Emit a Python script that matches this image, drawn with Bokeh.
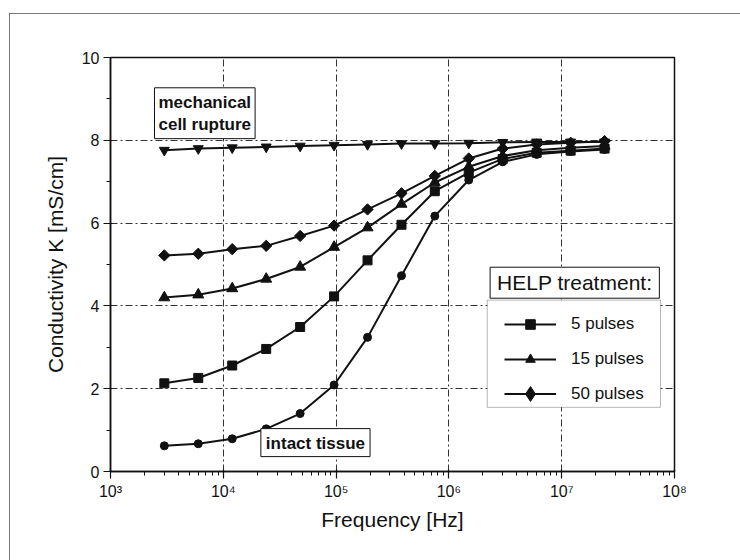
import math
from bokeh.plotting import figure
from bokeh.models import (Label, Legend, LegendItem, BoxAnnotation,
                          SingleIntervalTicker, LogTicker, CustomJSTickFormatter, Range1d)
from bokeh.embed import file_html
from bokeh.resources import INLINE

# ---- data ----
freq = [3e3, 6e3, 1.2e4, 2.4e4, 4.8e4, 9.6e4, 1.9e5, 3.8e5, 7.5e5, 1.5e6, 3e6, 6e6, 1.2e7, 2.4e7]
intact = [0.62, 0.67, 0.79, 1.03, 1.40, 2.09, 3.24, 4.73, 6.17, 7.04, 7.48, 7.66, 7.73, 7.78]
pulses5 = [2.13, 2.26, 2.56, 2.96, 3.49, 4.23, 5.10, 5.96, 6.77, 7.22, 7.55, 7.70, 7.75, 7.80]
pulses15 = [4.20, 4.27, 4.42, 4.65, 4.94, 5.42, 5.89, 6.46, 6.98, 7.36, 7.62, 7.76, 7.82, 7.86]
pulses50 = [5.22, 5.26, 5.37, 5.45, 5.69, 5.94, 6.33, 6.72, 7.14, 7.56, 7.80, 7.90, 7.94, 7.98]
rupture = [7.76, 7.80, 7.82, 7.84, 7.86, 7.88, 7.90, 7.92, 7.92, 7.93, 7.95, 7.96, 7.96, 7.96]

legend_labels = ["5 pulses", "15 pulses", "50 pulses"]
legend_title = "HELP treatment:"
note_rupture = "mechanical\ncell rupture"
note_intact = "intact tissue"
x_label = "Frequency [Hz]"
y_label = "Conductivity K [mS/cm]"

FONT = "Liberation Sans"
INK = "#111111"

p = figure(width=731, height=547, x_axis_type="log",
           x_range=Range1d(1e3, 1e8), y_range=Range1d(0, 10),
           output_backend="svg", toolbar_location=None,
           min_border_left=100, min_border_right=67,
           min_border_top=43, min_border_bottom=90)
p.margin = (13, 0, 0, 9)
p.styles = {"border-left": "1px solid #777", "border-top": "1px solid #777"}
# an off-screen range used only to give the legend its diamond swatch
p.extra_y_ranges = {"legend_key": Range1d(100, 110)}

p.outline_line_color = INK
p.outline_line_width = 1.5
p.background_fill_color = "white"

# axes
p.xaxis.ticker = LogTicker(num_minor_ticks=10)
p.xaxis.formatter = CustomJSTickFormatter(code="""
const sup = {'0':'\u2070','1':'\u00b9','2':'\u00b2','3':'\u00b3','4':'\u2074','5':'\u2075','6':'\u2076','7':'\u2077','8':'\u2078','9':'\u2079','-':'\u207b'};
const e = Math.round(Math.log10(tick));
return '10' + String(e).split('').map(c => sup[c]).join('');
""")
p.yaxis.ticker = SingleIntervalTicker(interval=2, num_minor_ticks=2)

for ax in (p.xaxis[0], p.yaxis[0]):
    ax.axis_line_color = INK
    ax.axis_line_width = 1.5
    ax.major_tick_line_color = INK
    ax.minor_tick_line_color = INK
    ax.major_tick_line_width = 1.2
    ax.minor_tick_line_width = 1
    ax.major_tick_in = 2
    ax.major_tick_out = 7
    ax.minor_tick_in = 0
    ax.minor_tick_out = 4
    ax.major_label_text_font = FONT
    ax.major_label_text_font_size = "16px"
    ax.major_label_text_color = INK
    ax.axis_label_text_font = FONT
    ax.axis_label_text_font_size = "21px"
    ax.axis_label_text_font_style = "normal"
    ax.axis_label_text_color = INK
    ax.major_label_standoff = 4

p.xaxis.axis_label = x_label
p.yaxis.axis_label = y_label
p.xaxis.axis_label_standoff = 5
p.yaxis.axis_label_standoff = 12

for g in (p.xgrid[0], p.ygrid[0]):
    g.grid_line_color = "#333333"
    g.grid_line_width = 1
    g.grid_line_dash = "7 3 2 3"
p.xgrid.minor_grid_line_color = None

# series
def series(y, marker, size, angle=0.0):
    ln = p.line(freq, y, line_color=INK, line_width=2)
    mk = p.scatter(freq, y, marker=marker, size=size, angle=angle,
                   fill_color=INK, line_color=INK)
    return ln, mk

r_intact = series(intact, "circle", 8)
r5 = series(pulses5, "square", 9)
r15 = series(pulses15, "triangle", 11)
r50 = series(pulses50, "square", 8, angle=math.pi / 4)
r_rup = series(rupture, "inverted_triangle", 10)

# legend swatch for the diamond series (legend ignores marker angle);
# mapped to the off-screen range, so it is clipped from the plot area
r50_key = p.scatter(freq, pulses50, marker="diamond", size=16, fill_color=INK,
                    line_color=INK, y_range_name="legend_key")

# text boxes
p.add_layout(Label(x=10**3.39, y=8.04, text=note_rupture, text_font=FONT,
                   text_font_size="17px", text_font_style="bold", text_color=INK,
                   text_align="left", text_baseline="bottom", text_line_height=1.15,
                   border_line_color=INK, border_line_width=1,
                   background_fill_color="white",
                   padding=dict(left=4, right=4, top=5, bottom=5)))
p.add_layout(Label(x=10**4.333, y=0.36, text=note_intact, text_font=FONT,
                   text_font_size="17px", text_font_style="bold", text_color=INK,
                   text_align="left", text_baseline="bottom",
                   border_line_color=INK, border_line_width=1,
                   background_fill_color="white",
                   padding=dict(left=5, right=5, top=5, bottom=4)))

# legend box and title box
p.add_layout(BoxAnnotation(left=10**6.34, right=10**7.876, top=4.14, bottom=1.55,
                           fill_color="white", fill_alpha=1,
                           line_color=INK, line_width=1))
p.add_layout(Label(x=10**7.1156, y=4.56, text=legend_title, text_font=FONT,
                   text_font_size="21px", text_color=INK,
                   text_align="center", text_baseline="middle",
                   border_line_color=INK, border_line_width=1,
                   background_fill_color="white",
                   padding=dict(left=7, right=7, top=4, bottom=4)))

legend_style = dict(orientation="vertical", glyph_width=52, padding=0, margin=0,
                    label_standoff=15, label_text_font=FONT, label_text_font_size="17px",
                    label_text_color=INK, border_line_color=None, background_fill_alpha=0)
legend_a = Legend(items=[LegendItem(label=legend_labels[0], renderers=list(r5)),
                         LegendItem(label=legend_labels[1], renderers=list(r15))],
                  location=(394, 100), glyph_height=24, spacing=11, **legend_style)
legend_b = Legend(items=[LegendItem(label=legend_labels[2], renderers=[r50[0], r50_key])],
                  location=(394, 59), glyph_height=37, spacing=0, **legend_style)
p.add_layout(legend_a)
p.add_layout(legend_b)

open("out.html", "w").write(file_html(p, INLINE))
